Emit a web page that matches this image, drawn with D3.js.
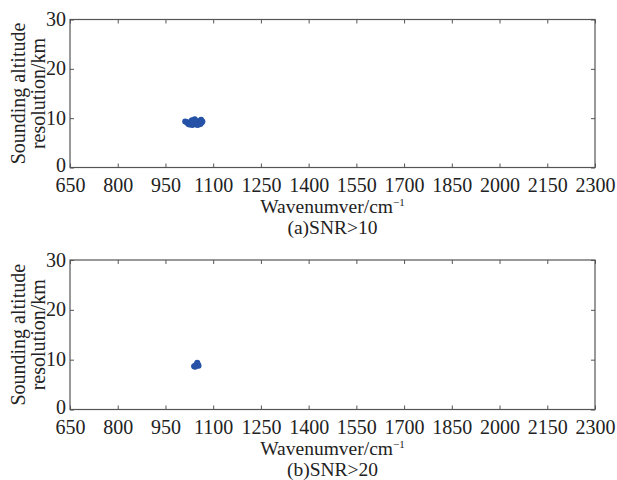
<!DOCTYPE html>
<html>
<head>
<meta charset="utf-8">
<script src="https://cdn.jsdelivr.net/npm/d3@7/dist/d3.min.js"></script>
<style>
  body { margin: 0; background: #fff; }
  svg text { font-family: "Liberation Serif", "Times New Roman", serif; fill: #222; }
</style>
</head>
<body>
<svg id="chart" width="617" height="480"></svg>
<script>
// ---- data ----
const xTicks = [650, 800, 950, 1100, 1250, 1400, 1550, 1700, 1850, 2000, 2150, 2300];
const yTicks = [0, 10, 20, 30];
const captions = ["(a)SNR>10", "(b)SNR>20"];
// panel (a) SNR>10: wavenumber (cm^-1), sounding altitude resolution (km)
const snr10Wave = [1012, 1016, 1020, 1022, 1025, 1028, 1030, 1033, 1035, 1038, 1040, 1042, 1045, 1047, 1050, 1052, 1055, 1058, 1060, 1062, 1064, 1066, 1025, 1035, 1045, 1055, 1040, 1050, 1030, 1060];
const snr10Res  = [9.3, 9.2, 9.0, 8.8, 9.1, 8.9, 9.2, 9.6, 9.0, 8.8, 9.3, 9.8, 9.1, 8.9, 9.4, 9.0, 8.8, 9.2, 9.5, 9.7, 9.1, 9.3, 8.7, 8.6, 8.8, 8.7, 9.5, 8.6, 8.7, 8.8];
// panel (b) SNR>20
const snr20Wave = [1040, 1043, 1046, 1048, 1050, 1052, 1054, 1045, 1050];
const snr20Res  = [8.7, 8.6, 8.8, 8.9, 9.2, 9.0, 8.8, 8.9, 9.4];

const panels = [
  { wave: snr10Wave, res: snr10Res, caption: captions[0], top: 19.5, bottom: 167.5 },
  { wave: snr20Wave, res: snr20Res, caption: captions[1], top: 260, bottom: 409.5 }
];

const svg = d3.select("#chart");
const left = 70, right = 595;
const axisColor = "#555";
const dotColor = "#2552a6";

panels.forEach(p => {
  const x = d3.scaleLinear().domain([650, 2300]).range([left, right]);
  const y = d3.scaleLinear().domain([0, 30]).range([p.bottom, p.top]);
  const g = svg.append("g");

  // frame
  g.append("rect").attr("x", left).attr("y", p.top)
    .attr("width", right - left).attr("height", p.bottom - p.top)
    .attr("fill", "none").attr("stroke", axisColor).attr("stroke-width", 1.2);

  // bottom axis
  const xb = g.append("g").attr("transform", `translate(0,${p.bottom})`)
    .call(d3.axisBottom(x).tickValues(xTicks).tickSize(-4).tickPadding(8).tickFormat(d3.format("d")));
  xb.select(".domain").remove();
  xb.selectAll("line").attr("stroke", axisColor);
  xb.selectAll("text").attr("font-size", 20).attr("dy", "0.71em").attr("y", 10.5);

  // top ticks
  const xt = g.append("g").attr("transform", `translate(0,${p.top})`)
    .call(d3.axisTop(x).tickValues(xTicks).tickSize(-4).tickFormat(""));
  xt.select(".domain").remove();
  xt.selectAll("line").attr("stroke", axisColor);

  // left axis
  const yl = g.append("g").attr("transform", `translate(${left},0)`)
    .call(d3.axisLeft(y).tickValues(yTicks).tickSize(-4).tickPadding(4));
  yl.select(".domain").remove();
  yl.selectAll("line").attr("stroke", axisColor);
  yl.selectAll("text").attr("font-size", 20).attr("dy", d => d === 0 ? "0.2em" : "0.3em");

  // right ticks
  const yr = g.append("g").attr("transform", `translate(${right},0)`)
    .call(d3.axisRight(y).tickValues(yTicks).tickSize(-4).tickFormat(""));
  yr.select(".domain").remove();
  yr.selectAll("line").attr("stroke", axisColor);

  // points
  g.append("g").selectAll("circle")
    .data(p.wave.map((w, i) => [w, p.res[i]]))
    .join("circle")
    .attr("cx", d => x(d[0])).attr("cy", d => y(d[1]))
    .attr("r", 3).attr("fill", dotColor);

  // y label
  const cy = (p.top + p.bottom) / 2;
  g.append("text")
    .attr("transform", `translate(25,${cy}) rotate(-90)`)
    .attr("text-anchor", "middle").attr("font-size", 20)
    .text("Sounding altitude");
  g.append("text")
    .attr("transform", `translate(45,${cy}) rotate(-90)`)
    .attr("text-anchor", "middle").attr("font-size", 20)
    .text("resolution/km");

  // x label
  const xlab = g.append("text")
    .attr("x", (left + right) / 2).attr("y", p.bottom + 45.5)
    .attr("text-anchor", "middle").attr("font-size", 19.5);
  xlab.append("tspan").text("Wavenumver/cm");
  xlab.append("tspan").attr("font-size", 11).attr("dy", -7).text("−1");

  // caption
  g.append("text")
    .attr("x", (left + right) / 2).attr("y", p.bottom + 66.5)
    .attr("text-anchor", "middle").attr("font-size", 19.5)
    .text(p.caption);
});
</script>
</body>
</html>
